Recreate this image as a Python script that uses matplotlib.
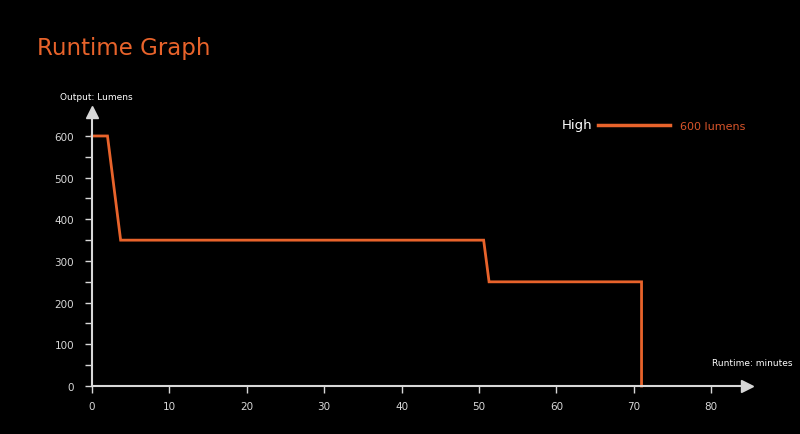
import matplotlib.pyplot as plt
from matplotlib.lines import Line2D

# runtime curve (minutes, lumens)
runtime = [0, 2, 3.7, 50.6, 51.3, 71, 71]
lumens = [600, 600, 350, 350, 250, 250, 0]

xticks = [0, 10, 20, 30, 40, 50, 60, 70, 80]
yticks = [0, 100, 200, 300, 400, 500, 600]
yminor = [50, 150, 250, 350, 450, 550]

orange = '#e8632b'
axcol = '#d8d8d8'

W, H = 800, 435
fig = plt.figure(figsize=(8, 4.35), dpi=100, facecolor='black')
ax = fig.add_axes([92 / W, (H - 387) / H, (747 - 92) / W, (387 - 113) / H])
ax.set_facecolor('black')

ax.plot(runtime, lumens, color=orange, lw=2, solid_joinstyle='miter', clip_on=False)

ax.set_xlim(0, 655 / 7.74)
ax.set_ylim(0, 274 / 41.67 * 100)
for s in ['top', 'right']:
    ax.spines[s].set_visible(False)
for s in ['left', 'bottom']:
    ax.spines[s].set_color(axcol)
    ax.spines[s].set_linewidth(1.5)

# arrow heads
ax.plot(1, 0, '>', color=axcol, ms=8, transform=ax.transAxes, clip_on=False)
ax.plot(0, 1, '^', color=axcol, ms=8, transform=ax.transAxes, clip_on=False)

ax.set_xticks(xticks)
ax.set_yticks(yticks)
ax.set_yticks(yminor, minor=True)
ax.tick_params(axis='both', colors=axcol, labelsize=7.5, width=1, length=5)
ax.tick_params(axis='y', which='minor', colors=axcol, width=1, length=5)
ax.tick_params(axis='y', pad=8)
ax.tick_params(axis='x', pad=6)

fig.text(37 / W, 1 - 48 / H, 'Runtime Graph', color=orange, fontsize=16.5,
         va='center', ha='left')
fig.text(60 / W, 1 - 98 / H, 'Output: Lumens', color='white', fontsize=6.5,
         va='center', ha='left')
fig.text(712 / W, 1 - 364 / H, 'Runtime: minutes', color='white', fontsize=6.5,
         va='center', ha='left')

# legend
fig.text(562 / W, 1 - 126 / H, 'High', color='white', fontsize=9.5,
         va='center', ha='left')
fig.add_artist(Line2D([598 / W, 670 / W], [1 - 126 / H, 1 - 126 / H],
                      color=orange, lw=2.5, transform=fig.transFigure))
fig.text(680 / W, 1 - 127 / H, '600 lumens', color='#d9552a', fontsize=8,
         va='center', ha='left')

fig.savefig('out.png', dpi=100, facecolor='black')
